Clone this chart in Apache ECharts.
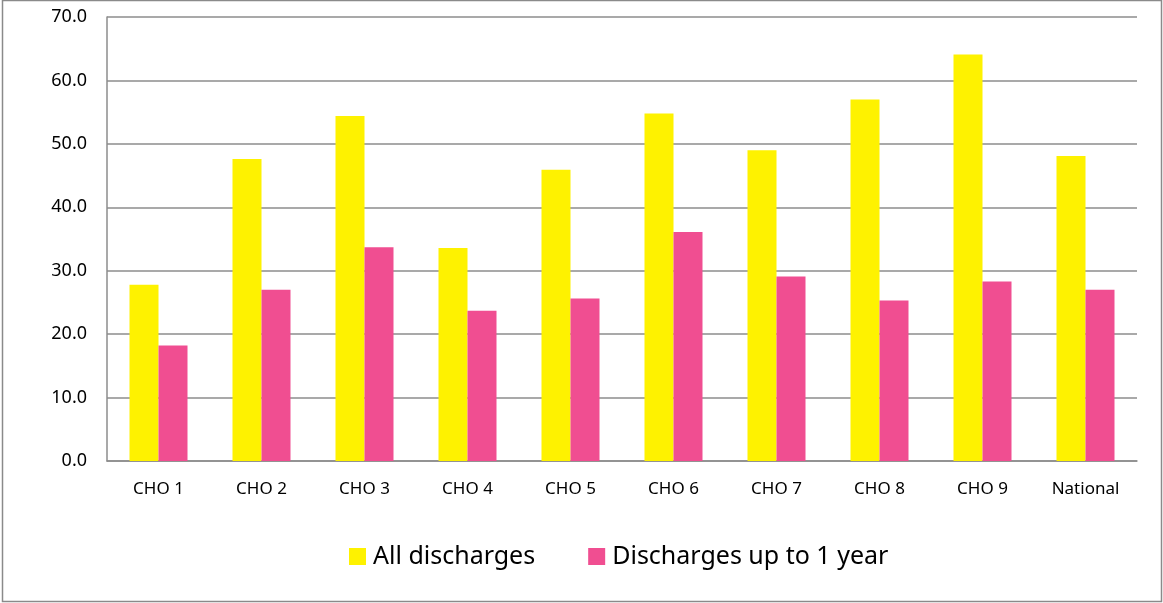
<!DOCTYPE html>
<html>
<head>
<meta charset="utf-8">
<script src="https://cdn.jsdelivr.net/npm/echarts@6/dist/echarts.min.js"></script>
<style>
  html, body { margin: 0; padding: 0; background: #fff; }
  #box { width: 1163px; height: 603px; }
</style>
</head>
<body>
<div id="box"></div>
<script>
// categories and values
var categories = ['CHO 1', 'CHO 2', 'CHO 3', 'CHO 4', 'CHO 5', 'CHO 6', 'CHO 7', 'CHO 8', 'CHO 9', 'National'];
var allDischarges = [27.8, 47.6, 54.4, 33.6, 45.9, 54.8, 49.0, 57.0, 64.1, 48.1];
var upToOneYear = [18.2, 27.0, 33.7, 23.7, 25.6, 36.1, 29.1, 25.3, 28.3, 27.0];
var seriesNames = ['All discharges', 'Discharges up to 1 year'];

var myChart = echarts.init(document.getElementById('box'));

var font = 'Noto Sans';

var option = {
    backgroundColor: '#fff',
    animation: false,
    // outer frame of the chart
    graphic: [{
        type: 'rect',
        shape: { x: 2.5, y: 0.5, width: 1159, height: 601 },
        style: { fill: 'none', stroke: '#8a8a8a', lineWidth: 1.5 },
        silent: true
    }],
    grid: {
        left: 107,
        right: 26,
        top: 17,
        bottom: 142,
        containLabel: false
    },
    legend: {
        data: seriesNames,
        left: 344,
        top: 539,
        itemWidth: 17,
        itemHeight: 17,
        itemGap: 53,
        icon: 'rect',
        textStyle: { fontFamily: font, fontSize: 25, color: '#000', padding: [0, 0, 0, 2] }
    },
    xAxis: [{
        type: 'category',
        data: categories,
        axisLine: { show: true, lineStyle: { color: '#8c8c8c', width: 1.5 } },
        axisTick: { show: false },
        axisLabel: { fontFamily: font, fontSize: 17, color: '#000', margin: 20, interval: 0 }
    }],
    yAxis: [{
        type: 'value',
        min: 0,
        max: 70,
        interval: 10,
        axisLine: { show: true, lineStyle: { color: '#8c8c8c', width: 1.5 } },
        axisTick: { show: false },
        splitLine: { lineStyle: { color: '#8c8c8c', width: 1.5 } },
        axisLabel: {
            fontFamily: font, fontSize: 18, color: '#000', margin: 20,
            formatter: function (v) { return v.toFixed(1); }
        }
    }],
    series: [{
        name: seriesNames[0],
        type: 'bar',
        data: allDischarges,
        barWidth: 29,
        barGap: '0%',
        itemStyle: { color: '#FEF200' }
    }, {
        name: seriesNames[1],
        type: 'bar',
        data: upToOneYear,
        barWidth: 29,
        itemStyle: { color: '#F04E91' }
    }]
};

myChart.setOption(option);
</script>
</body>
</html>
